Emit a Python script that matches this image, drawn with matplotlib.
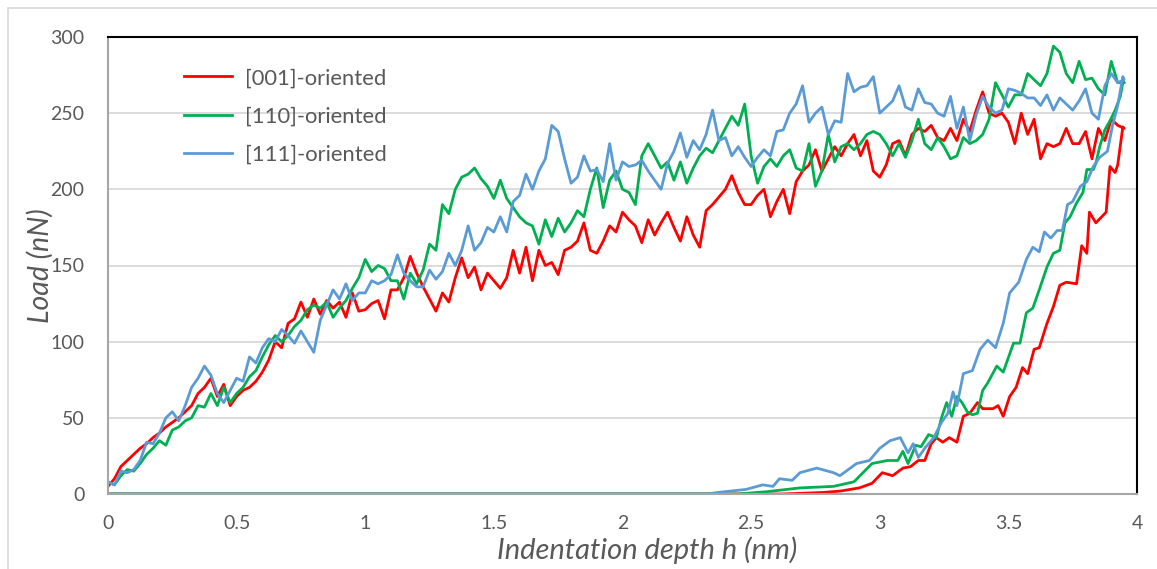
import numpy as np
import matplotlib
matplotlib.use('Agg')
import matplotlib.pyplot as plt
from matplotlib.patches import Rectangle

plt.rcParams['font.family'] = ['Lato', 'DejaVu Sans']

# loading branch, depth sampled every 0.025 nm from 0 to 3.95 nm
depth_load = np.round(np.arange(0, 3.95 + 1e-9, 0.025), 3)

load_001 = [5, 10, 18, 22, 26, 30, 33, 37, 40, 44, 47, 50, 54, 58, 66, 70, 76, 64, 72, 58,
            64, 68, 70, 74, 80, 88, 100, 96, 112, 115, 126, 116, 128, 118, 127, 122, 126, 116, 132, 120,
            121, 125, 127, 115, 134, 134, 142, 156, 145, 136, 128, 120, 132, 126, 142, 155, 142, 149, 134, 145,
            140, 135, 142, 160, 145, 162, 140, 160, 150, 152, 144, 160, 162, 166, 178, 160, 158, 166, 176, 172,
            185, 180, 176, 165, 180, 170, 178, 185, 175, 166, 182, 170, 162, 186, 190, 195, 200, 209, 198, 190,
            190, 196, 200, 182, 192, 200, 184, 205, 212, 216, 226, 212, 220, 228, 222, 230, 236, 222, 232, 212,
            208, 216, 230, 232, 222, 236, 240, 238, 242, 234, 232, 240, 232, 246, 238, 252, 264, 250, 248, 250,
            244, 230, 250, 236, 246, 220, 230, 228, 230, 240, 230, 230, 238, 220, 240, 232, 246, 242, 240]

load_110 = [8, 6, 12, 16, 15, 20, 26, 30, 35, 32, 42, 44, 48, 50, 58, 57, 66, 58, 70, 60,
            66, 70, 77, 81, 90, 98, 104, 100, 104, 110, 114, 121, 124, 122, 126, 116, 122, 127, 135, 142,
            154, 146, 150, 148, 140, 140, 128, 145, 138, 147, 164, 160, 190, 184, 200, 208, 210, 214, 207, 202,
            194, 206, 194, 188, 182, 178, 176, 164, 180, 169, 181, 172, 178, 186, 182, 200, 214, 188, 206, 212,
            200, 198, 190, 222, 230, 222, 214, 218, 206, 218, 204, 214, 222, 227, 224, 232, 240, 248, 242, 256,
            222, 204, 215, 220, 215, 222, 226, 214, 212, 230, 202, 212, 236, 218, 228, 230, 226, 230, 236, 238,
            236, 230, 222, 230, 221, 232, 246, 230, 226, 234, 228, 220, 222, 234, 230, 232, 236, 246, 270, 262,
            254, 262, 262, 276, 272, 268, 276, 294, 290, 276, 270, 284, 272, 273, 266, 262, 284, 270, 270]

load_111 = [8, 6, 15, 14, 16, 22, 34, 33, 40, 50, 54, 48, 58, 70, 76, 84, 78, 66, 60, 68,
            76, 74, 90, 86, 96, 102, 100, 108, 104, 99, 107, 100, 93, 114, 124, 134, 128, 138, 127, 132,
            132, 140, 138, 140, 144, 157, 145, 140, 136, 136, 147, 141, 146, 158, 150, 160, 176, 160, 165, 175,
            172, 182, 172, 192, 196, 210, 200, 212, 220, 242, 238, 220, 204, 208, 222, 212, 213, 205, 230, 206,
            218, 215, 216, 219, 212, 206, 200, 217, 225, 237, 221, 232, 226, 236, 252, 232, 234, 222, 228, 221,
            215, 221, 226, 222, 238, 239, 250, 256, 268, 244, 250, 254, 236, 245, 244, 276, 264, 267, 268, 274,
            250, 254, 258, 268, 254, 252, 266, 257, 256, 250, 248, 261, 240, 254, 232, 249, 261, 254, 250, 252,
            266, 265, 263, 260, 260, 255, 262, 252, 260, 256, 252, 258, 266, 250, 246, 268, 276, 270, 272]

# unloading branches (depth goes back down)
unload_h_001 = [3.945, 3.925, 3.915, 3.895, 3.88, 3.84, 3.815, 3.805, 3.785, 3.765,
                3.725, 3.70, 3.675, 3.65, 3.62, 3.60, 3.575, 3.555, 3.53, 3.505,
                3.48, 3.46, 3.44, 3.40, 3.38, 3.35, 3.325, 3.30, 3.27, 3.245,
                3.22, 3.20, 3.175, 3.15, 3.12, 3.09, 3.05, 3.01, 2.97, 2.92,
                2.85, 2.78, 2.70, 2.62, 0.0]
unload_001 = [241, 216, 211, 215, 185, 178, 185, 158, 163, 138,
              139, 137, 123, 112, 96, 95, 79, 83, 70, 64,
              51, 58, 56, 56, 60, 53, 51, 34, 37, 34,
              37, 33, 22, 22, 18, 17, 12, 14, 7, 4,
              2, 1, 0.5, 0, 0]

unload_h_110 = [3.945, 3.935, 3.915, 3.895, 3.875, 3.855, 3.84, 3.83, 3.805, 3.79,
                3.765, 3.74, 3.72, 3.70, 3.675, 3.65, 3.62, 3.595, 3.57, 3.545,
                3.52, 3.48, 3.455, 3.42, 3.40, 3.38, 3.36, 3.34, 3.32, 3.30,
                3.28, 3.26, 3.24, 3.22, 3.19, 3.16, 3.14, 3.11, 3.09, 3.07,
                3.03, 2.97, 2.90, 2.82, 2.69, 2.56, 2.45, 0.0]
unload_110 = [270, 261, 252, 245, 239, 228, 217, 213, 213, 198,
              191, 182, 178, 160, 158, 149, 134, 122, 119, 99,
              99, 80, 84, 73, 68, 53, 52, 54, 60, 64,
              51, 60, 50, 37, 39, 31, 32, 20, 28, 22,
              22, 20, 8, 5, 4, 1.5, 0, 0]

unload_h_111 = [3.945, 3.925, 3.905, 3.885, 3.855, 3.83, 3.805, 3.78, 3.75, 3.73,
                3.71, 3.69, 3.665, 3.64, 3.62, 3.595, 3.57, 3.54, 3.505, 3.48,
                3.45, 3.42, 3.39, 3.36, 3.325, 3.30, 3.285, 3.265, 3.24, 3.21,
                3.175, 3.15, 3.13, 3.11, 3.08, 3.04, 3.0, 2.96, 2.91, 2.845,
                2.82, 2.755, 2.69, 2.66, 2.61, 2.585, 2.545, 2.48, 2.37, 2.33, 0.0]
unload_111 = [274, 255, 242, 225, 221, 215, 205, 202, 192, 190,
              173, 173, 168, 172, 159, 162, 154, 139, 132, 112,
              96, 101, 95, 81, 79, 58, 67, 53, 47, 37,
              30, 24, 33, 27, 37, 35, 30, 22, 20, 12,
              14, 17, 14, 9, 10, 5, 6, 3, 1, 0, 0]

labels = ['[001]-oriented', '[110]-oriented', '[111]-oriented']
colors = ['#FF0000', '#00B050', '#5B9BD5']
x_ticks = [0, 0.5, 1, 1.5, 2, 2.5, 3, 3.5, 4]
x_ticklabels = ['0', '0.5', '1', '1.5', '2', '2.5', '3', '3.5', '4']
y_ticks = [0, 50, 100, 150, 200, 250, 300]

txt = '#595959'
fig = plt.figure(figsize=(11.57, 5.69), dpi=100)
ax = fig.add_axes([108 / 1157, 1 - 494 / 569, (1137 - 108) / 1157, (494 - 37) / 569])

series = [(load_001, unload_h_001, unload_001),
          (load_110, unload_h_110, unload_110),
          (load_111, unload_h_111, unload_111)]
for (ld, uh, ul), lab, c in zip(series, labels, colors):
    xs = np.concatenate([depth_load, uh])
    ys = np.concatenate([ld, ul])
    ax.plot(xs, ys, color=c, lw=2.0, label=lab, solid_joinstyle='round')

ax.set_xlim(0, 4)
ax.set_ylim(0, 300)
ax.set_xticks(x_ticks)
ax.set_xticklabels(x_ticklabels)
ax.set_yticks(y_ticks)
ax.tick_params(axis='both', length=0, labelsize=14, colors=txt)
ax.tick_params(axis='x', pad=15)
ax.tick_params(axis='y', pad=17)
ax.grid(axis='y', color='#D9D9D9', lw=1.3)
ax.set_axisbelow(True)
for s in ['top', 'right']:
    ax.spines[s].set_color('black')
    ax.spines[s].set_linewidth(1.5)
for s in ['left', 'bottom']:
    ax.spines[s].set_color('#A6A6A6')
    ax.spines[s].set_linewidth(1.5)

ax.set_xlabel('Indentation depth h (nm)', fontsize=21, style='italic', color=txt)
ax.set_ylabel('Load (nN)', fontsize=20.5, style='italic', color=txt)
ax.xaxis.set_label_coords(0.524, -0.092)
ax.yaxis.set_label_coords(-0.053, 0.5)

leg = ax.legend(loc='upper left', bbox_to_anchor=(0.0545, 0.975), frameon=False,
                fontsize=15.8, handlelength=2.2, labelspacing=0.83, handletextpad=0.6)
for t in leg.get_texts():
    t.set_color(txt)

fig.patches.append(Rectangle((8 / 1157, -0.05), 1.1, 1 - 8 / 569 + 0.05, transform=fig.transFigure,
                             fill=False, edgecolor='#D9D9D9', lw=1.2))

fig.savefig('out.png', dpi=100)
